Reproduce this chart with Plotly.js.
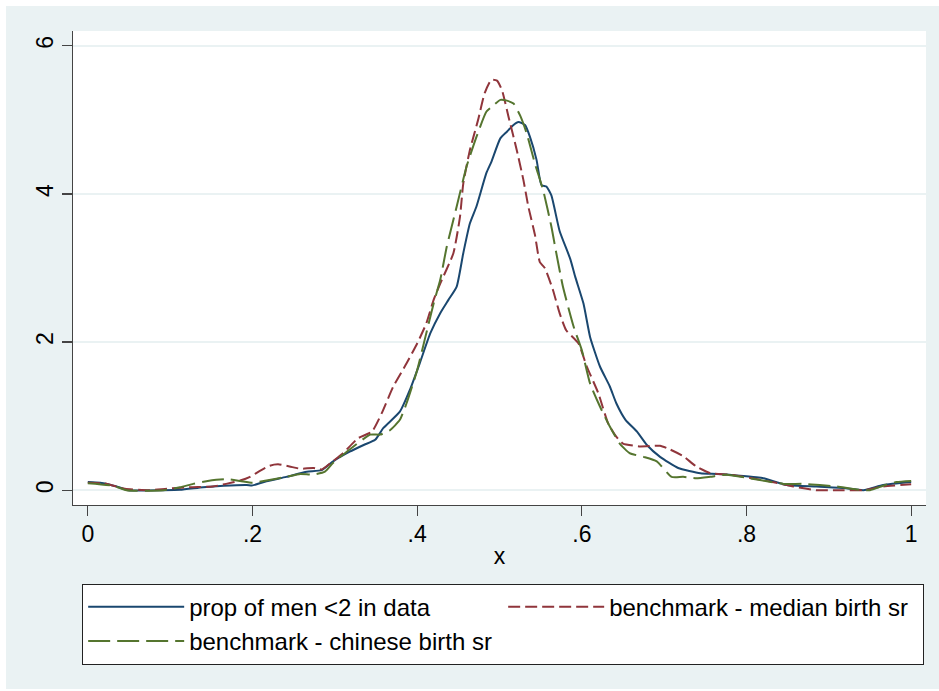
<!DOCTYPE html>
<html>
<head>
<meta charset="utf-8">
<script src="https://cdn.plot.ly/plotly-3.0.1.min.js"></script>
<style>
  html, body { margin: 0; padding: 0; background: #ffffff; }
  #chart { position: absolute; left: 6px; top: 6px; width: 933px; height: 683px; }
</style>
</head>
<body>
<div id="chart"></div>
<script>
// prop of men <2 in data
const xData = [0, 0.015, 0.035, 0.049, 0.092, 0.112, 0.140, 0.165, 0.193, 0.2, 0.217, 0.241, 0.266, 0.284, 0.298, 0.318, 0.335, 0.349, 0.359, 0.379, 0.391, 0.403, 0.416, 0.428, 0.438, 0.448, 0.456, 0.464, 0.472, 0.484, 0.490, 0.501, 0.509, 0.517, 0.523, 0.531, 0.537, 0.545, 0.551, 0.557, 0.563, 0.573, 0.586, 0.592, 0.602, 0.610, 0.622, 0.634, 0.642, 0.653, 0.667, 0.679, 0.695, 0.717, 0.744, 0.764, 0.788, 0.812, 0.821, 0.849, 0.885, 0.918, 0.942, 0.966, 1.0];
const yData = [0.11, 0.10, 0.05, 0.0, 0.0, 0.005, 0.04, 0.06, 0.07, 0.065, 0.12, 0.18, 0.25, 0.27, 0.39, 0.52, 0.61, 0.68, 0.84, 1.06, 1.35, 1.71, 2.12, 2.39, 2.57, 2.75, 3.2, 3.6, 3.83, 4.28, 4.43, 4.75, 4.84, 4.93, 4.97, 4.93, 4.77, 4.46, 4.12, 4.10, 3.98, 3.50, 3.12, 2.88, 2.52, 2.07, 1.67, 1.40, 1.17, 0.95, 0.79, 0.61, 0.45, 0.30, 0.23, 0.22, 0.20, 0.175, 0.16, 0.07, 0.05, 0.03, 0.0, 0.07, 0.11];

// benchmark - median birth sr
const xMedian = [0, 0.02, 0.045, 0.075, 0.096, 0.124, 0.152, 0.168, 0.185, 0.197, 0.209, 0.221, 0.231, 0.245, 0.258, 0.274, 0.284, 0.294, 0.31, 0.328, 0.345, 0.357, 0.371, 0.387, 0.40, 0.411, 0.42, 0.428, 0.444, 0.452, 0.456, 0.464, 0.474, 0.482, 0.490, 0.497, 0.503, 0.511, 0.521, 0.529, 0.535, 0.543, 0.549, 0.555, 0.565, 0.573, 0.581, 0.596, 0.606, 0.620, 0.632, 0.642, 0.650, 0.671, 0.695, 0.707, 0.723, 0.739, 0.756, 0.78, 0.812, 0.836, 0.857, 0.885, 0.909, 0.942, 0.966, 1.0];
const yMedian = [0.10, 0.09, 0.02, 0.0, 0.02, 0.04, 0.05, 0.085, 0.13, 0.18, 0.26, 0.33, 0.35, 0.32, 0.29, 0.30, 0.28, 0.36, 0.50, 0.70, 0.79, 1.04, 1.40, 1.71, 1.98, 2.25, 2.57, 2.79, 3.2, 3.69, 4.14, 4.59, 5.0, 5.36, 5.54, 5.53, 5.40, 5.04, 4.59, 4.19, 3.83, 3.45, 3.08, 3.0, 2.70, 2.39, 2.16, 1.98, 1.67, 1.31, 0.90, 0.72, 0.63, 0.59, 0.60, 0.55, 0.46, 0.32, 0.23, 0.21, 0.15, 0.10, 0.05, 0.0, 0.0, 0.0, 0.05, 0.08];

// benchmark - chinese birth sr
const xChinese = [0, 0.031, 0.047, 0.092, 0.112, 0.128, 0.144, 0.156, 0.168, 0.185, 0.2, 0.217, 0.241, 0.258, 0.274, 0.288, 0.298, 0.318, 0.343, 0.355, 0.367, 0.379, 0.387, 0.40, 0.410, 0.42, 0.428, 0.436, 0.448, 0.460, 0.472, 0.484, 0.492, 0.501, 0.509, 0.517, 0.525, 0.533, 0.543, 0.553, 0.563, 0.569, 0.577, 0.590, 0.600, 0.610, 0.622, 0.634, 0.646, 0.658, 0.675, 0.691, 0.709, 0.723, 0.739, 0.756, 0.776, 0.804, 0.825, 0.845, 0.869, 0.889, 0.909, 0.934, 0.950, 0.966, 0.982, 1.0];
const yChinese = [0.095, 0.06, 0.0, 0.0, 0.04, 0.085, 0.12, 0.14, 0.15, 0.125, 0.10, 0.13, 0.18, 0.22, 0.21, 0.25, 0.37, 0.55, 0.75, 0.75, 0.81, 0.95, 1.17, 1.62, 2.07, 2.52, 2.84, 3.29, 3.83, 4.37, 4.77, 5.11, 5.19, 5.27, 5.26, 5.22, 5.06, 4.82, 4.41, 4.05, 3.56, 3.2, 2.75, 2.21, 1.89, 1.44, 1.13, 0.86, 0.63, 0.50, 0.45, 0.39, 0.18, 0.18, 0.16, 0.18, 0.21, 0.16, 0.12, 0.085, 0.085, 0.07, 0.05, 0.01, 0.0, 0.06, 0.11, 0.125];

const seriesNames = ['prop of men <2 in data', 'benchmark - median birth sr', 'benchmark - chinese birth sr'];
const xTickVals = [0, 0.2, 0.4, 0.6, 0.8, 1];
const xTickText = ['0', '.2', '.4', '.6', '.8', '1'];
const yTickVals = [0, 2, 4, 6];
const yTickText = ['0', '2', '4', '6'];

const FONT = 'Liberation Sans, Arial, sans-serif';

const traces = [
  { x: xData, y: yData, name: seriesNames[0], type: 'scatter', mode: 'lines',
    line: { color: '#1A476F', width: 2, shape: 'spline', smoothing: 0.5 } },
  { x: xMedian, y: yMedian, name: seriesNames[1], type: 'scatter', mode: 'lines',
    line: { color: '#90353B', width: 2, dash: '12px,5px', shape: 'spline', smoothing: 0.5 } },
  { x: xChinese, y: yChinese, name: seriesNames[2], type: 'scatter', mode: 'lines',
    line: { color: '#55752F', width: 2, dash: '22px,7px', shape: 'spline', smoothing: 0.5 } }
];

const layout = {
  width: 933, height: 683,
  paper_bgcolor: '#EAF2F3',
  plot_bgcolor: '#FFFFFF',
  margin: { l: 67, r: 13, t: 25, b: 184 },
  font: { family: FONT, size: 23, color: '#000000' },
  showlegend: true,
  xaxis: {
    range: [-0.018, 1.018],
    tickvals: xTickVals, ticktext: xTickText,
    ticks: 'outside', ticklen: 10, tickwidth: 1.3, tickcolor: '#444444',
    showline: true, linecolor: '#444444', linewidth: 1.3,
    showgrid: false, zeroline: false,
    tickfont: { family: FONT, size: 23, color: '#000000' },
    ticklabelstandoff: -2,
    title: { text: 'x', font: { family: FONT, size: 23, color: '#000000' }, standoff: 2 }
  },
  yaxis: {
    range: [-0.2, 6.2],
    tickvals: yTickVals, ticktext: yTickText,
    tickangle: -90,
    ticks: 'outside', ticklen: 10, tickwidth: 1.3, tickcolor: '#444444',
    showline: true, linecolor: '#444444', linewidth: 1.3,
    showgrid: true, gridcolor: '#EAF2F3', gridwidth: 2,
    zeroline: false,
    tickfont: { family: FONT, size: 23, color: '#000000' }
  },
  legend: {
    orientation: 'h',
    x: 0.5043, xanchor: 'center',
    y: -0.166, yanchor: 'top',
    bgcolor: '#FFFFFF', bordercolor: '#222222', borderwidth: 1,
    font: { family: FONT, size: 24, color: '#000000' },
    itemwidth: 96,
    entrywidth: 309,
    traceorder: 'normal'
  }
};

Plotly.newPlot('chart', traces, layout, { displayModeBar: false, staticPlot: true });
</script>
</body>
</html>
